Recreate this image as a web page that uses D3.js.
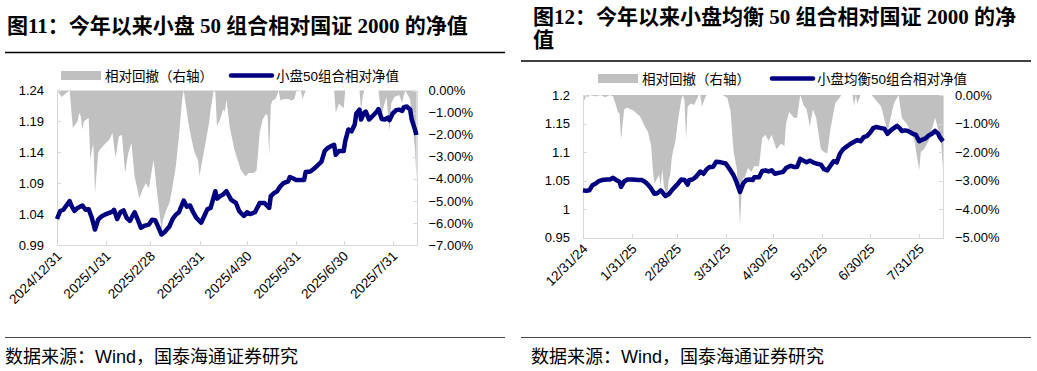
<!DOCTYPE html>
<meta charset="utf-8">
<script src="https://d3js.org/d3.v7.min.js"></script>
<style>
    body {
        margin: 0;
        background: #fff;
    }
    svg text {
        font-family: "Liberation Sans", Arial, "Noto Sans CJK SC", sans-serif;
    }
    .title {
        font-family: "Liberation Serif", "Noto Sans CJK SC", serif !important;
        font-weight: bold;
        font-size: 21px;
    }
    .axis path, .axis line {
        stroke: #d9d9d9;
        shape-rendering: crispEdges;
    }
    .axis text {
        fill: #000;
        font-size: 13px;
    }
</style>
<div id="viz_area"></div>
<script>
    var parseDate = d3.timeParse("%Y-%m-%d")

    // 图11 小盘50组合相对净值（左轴）
    var nav11 = [["2024-12-31",1.032],["2025-01-02",1.045],["2025-01-04",1.047],["2025-01-06",1.054],["2025-01-08",1.061],["2025-01-09",1.054],["2025-01-11",1.045],["2025-01-13",1.050],["2025-01-16",1.054],["2025-01-18",1.047],["2025-01-20",1.048],["2025-01-22",1.034],["2025-01-24",1.015],["2025-01-26",1.031],["2025-01-28",1.036],["2025-01-31",1.040],["2025-02-04",1.044],["2025-02-05",1.047],["2025-02-07",1.032],["2025-02-09",1.043],["2025-02-11",1.046],["2025-02-13",1.034],["2025-02-15",1.029],["2025-02-18",1.043],["2025-02-20",1.031],["2025-02-22",1.018],["2025-02-24",1.021],["2025-02-27",1.023],["2025-03-01",1.031],["2025-03-03",1.030],["2025-03-05",1.019],["2025-03-07",1.007],["2025-03-09",1.011],["2025-03-12",1.020],["2025-03-14",1.032],["2025-03-16",1.039],["2025-03-18",1.043],["2025-03-21",1.062],["2025-03-23",1.052],["2025-03-25",1.054],["2025-03-27",1.043],["2025-03-29",1.034],["2025-04-01",1.026],["2025-04-03",1.037],["2025-04-05",1.048],["2025-04-07",1.050],["2025-04-10",1.077],["2025-04-11",1.065],["2025-04-13",1.069],["2025-04-15",1.072],["2025-04-17",1.077],["2025-04-20",1.063],["2025-04-23",1.058],["2025-04-25",1.045],["2025-04-28",1.037],["2025-04-30",1.043],["2025-05-02",1.040],["2025-05-05",1.043],["2025-05-08",1.058],["2025-05-11",1.058],["2025-05-14",1.050],["2025-05-15",1.069],["2025-05-17",1.074],["2025-05-19",1.077],["2025-05-21",1.085],["2025-05-23",1.090],["2025-05-26",1.093],["2025-05-27",1.100],["2025-05-29",1.098],["2025-05-31",1.095],["2025-06-03",1.095],["2025-06-05",1.095],["2025-06-06",1.108],["2025-06-09",1.109],["2025-06-12",1.115],["2025-06-16",1.125],["2025-06-18",1.142],["2025-06-20",1.147],["2025-06-22",1.150],["2025-06-24",1.152],["2025-06-25",1.136],["2025-06-27",1.142],["2025-06-30",1.142],["2025-07-01",1.158],["2025-07-03",1.177],["2025-07-05",1.174],["2025-07-07",1.185],["2025-07-08",1.203],["2025-07-10",1.209],["2025-07-11",1.193],["2025-07-13",1.204],["2025-07-14",1.206],["2025-07-16",1.193],["2025-07-18",1.198],["2025-07-21",1.206],["2025-07-22",1.210],["2025-07-24",1.194],["2025-07-26",1.193],["2025-07-28",1.196],["2025-07-29",1.192],["2025-07-31",1.203],["2025-08-02",1.208],["2025-08-04",1.209],["2025-08-06",1.207],["2025-08-07",1.213],["2025-08-09",1.214],["2025-08-11",1.209],["2025-08-12",1.193],["2025-08-14",1.177],["2025-08-15",1.168]]

    // 图11 相对回撤（右轴，%）
    var dd11 = [["2024-12-31",0],["2025-01-03",-0.3],["2025-01-06",-0.1],["2025-01-08",0],["2025-01-10",-1.70],["2025-01-13",-1.39],["2025-01-14",-1.02],["2025-01-15",-1.17],["2025-01-16",-1.77],["2025-01-17",-1.39],["2025-01-20",-1.24],["2025-01-21",-3.14],["2025-01-22",-2.68],["2025-01-23",-2.45],["2025-01-24",-4.65],["2025-01-26",-2.83],["2025-01-27",-2.68],["2025-01-30",-2.45],["2025-02-02",-2.23],["2025-02-04",-1.92],["2025-02-06",-3.06],["2025-02-08",-2.08],["2025-02-10",-2.00],["2025-02-12",-3.74],["2025-02-14",-2.83],["2025-02-16",-2.38],["2025-02-18",-3.89],["2025-02-21",-4.88],["2025-02-23",-4.5],["2025-02-25",-4.2],["2025-02-27",-4.42],["2025-03-02",-3.14],["2025-03-04",-4.5],["2025-03-07",-6.32],["2025-03-08",-5.86],["2025-03-10",-5.41],["2025-03-12",-5.1],["2025-03-14",-4.35],["2025-03-16",-3.44],["2025-03-18",-2.08],["2025-03-20",-0.41],["2025-03-21",0],["2025-03-24",-1.47],["2025-03-26",-2.23],["2025-03-28",-2.83],["2025-03-30",-3.14],["2025-03-31",-3.89],["2025-04-01",-3.44],["2025-04-03",-2.68],["2025-04-06",-1.47],["2025-04-07",-0.86],["2025-04-09",0],["2025-04-10",-0.1],["2025-04-11",-1.62],["2025-04-13",-1.3],["2025-04-15",-0.86],["2025-04-16",-0.95],["2025-04-17",-0.41],["2025-04-19",-1.62],["2025-04-22",-2.68],["2025-04-24",-3.14],["2025-04-26",-3.59],["2025-04-29",-3.89],["2025-05-01",-3.74],["2025-05-04",-3.74],["2025-05-06",-3.64],["2025-05-07",-2.8],["2025-05-08",-1.89],["2025-05-10",-1.29],["2025-05-12",-1.06],["2025-05-13",-1.14],["2025-05-14",-2.95],["2025-05-15",-0.68],["2025-05-16",-0.45],["2025-05-18",-0.38],["2025-05-20",0],["2025-05-21",-0.45],["2025-05-23",-0.38],["2025-05-26",-0.38],["2025-05-28",-0.45],["2025-05-30",-0.38],["2025-05-31",-0.05],["2025-06-03",0],["2025-06-04",-0.38],["2025-06-06",0],["2025-06-24",0],["2025-06-25",-1.0],["2025-06-27",-0.6],["2025-06-30",-0.8],["2025-07-01",0],["2025-07-10",0],["2025-07-11",-0.9],["2025-07-12",-0.3],["2025-07-13",0],["2025-07-22",0],["2025-07-24",-1.24],["2025-07-25",-0.8],["2025-07-27",-0.3],["2025-07-29",-1.85],["2025-07-30",-0.6],["2025-08-01",-0.3],["2025-08-04",-0.2],["2025-08-06",-0.56],["2025-08-07",-0.2],["2025-08-08",0],["2025-08-11",-0.4],["2025-08-12",-1.3],["2025-08-14",-2.6],["2025-08-15",-4.0]]

    // 图12 小盘均衡50组合相对净值（左轴）
    var nav12 = [["2024-12-31",1.033],["2025-01-02",1.032],["2025-01-04",1.033],["2025-01-06",1.042],["2025-01-08",1.045],["2025-01-10",1.049],["2025-01-12",1.051],["2025-01-15",1.052],["2025-01-17",1.052],["2025-01-19",1.055],["2025-01-21",1.051],["2025-01-23",1.048],["2025-01-24",1.039],["2025-01-26",1.049],["2025-01-28",1.052],["2025-01-31",1.052],["2025-02-04",1.051],["2025-02-06",1.051],["2025-02-08",1.048],["2025-02-10",1.043],["2025-02-12",1.036],["2025-02-14",1.027],["2025-02-16",1.028],["2025-02-18",1.033],["2025-02-19",1.030],["2025-02-21",1.023],["2025-02-23",1.026],["2025-02-25",1.033],["2025-02-27",1.039],["2025-03-01",1.045],["2025-03-03",1.052],["2025-03-05",1.051],["2025-03-07",1.043],["2025-03-08",1.051],["2025-03-10",1.052],["2025-03-12",1.056],["2025-03-15",1.066],["2025-03-17",1.062],["2025-03-19",1.070],["2025-03-21",1.074],["2025-03-23",1.074],["2025-03-25",1.083],["2025-03-28",1.082],["2025-03-31",1.080],["2025-04-03",1.068],["2025-04-05",1.059],["2025-04-07",1.046],["2025-04-09",1.030],["2025-04-11",1.045],["2025-04-13",1.051],["2025-04-15",1.052],["2025-04-17",1.051],["2025-04-18",1.056],["2025-04-21",1.056],["2025-04-23",1.067],["2025-04-25",1.068],["2025-04-27",1.066],["2025-04-29",1.068],["2025-05-01",1.062],["2025-05-04",1.064],["2025-05-06",1.065],["2025-05-08",1.072],["2025-05-11",1.076],["2025-05-13",1.074],["2025-05-15",1.074],["2025-05-17",1.088],["2025-05-19",1.085],["2025-05-21",1.082],["2025-05-23",1.085],["2025-05-25",1.082],["2025-05-27",1.080],["2025-05-30",1.078],["2025-06-01",1.070],["2025-06-03",1.068],["2025-06-05",1.076],["2025-06-07",1.084],["2025-06-09",1.082],["2025-06-11",1.097],["2025-06-13",1.105],["2025-06-15",1.109],["2025-06-18",1.115],["2025-06-20",1.118],["2025-06-22",1.121],["2025-06-24",1.119],["2025-06-26",1.126],["2025-06-28",1.128],["2025-06-30",1.134],["2025-07-02",1.142],["2025-07-04",1.144],["2025-07-07",1.142],["2025-07-09",1.141],["2025-07-11",1.132],["2025-07-13",1.138],["2025-07-15",1.142],["2025-07-17",1.146],["2025-07-19",1.141],["2025-07-20",1.137],["2025-07-22",1.138],["2025-07-24",1.137],["2025-07-27",1.132],["2025-07-29",1.130],["2025-07-31",1.119],["2025-08-02",1.122],["2025-08-04",1.124],["2025-08-06",1.129],["2025-08-08",1.132],["2025-08-10",1.137],["2025-08-12",1.132],["2025-08-13",1.126],["2025-08-15",1.119]]

    // 图12 相对回撤（右轴，%）
    var dd12 = [["2024-12-31",0],["2025-01-01",-0.19],["2025-01-02",0],["2025-01-03",-0.1],["2025-01-04",0],["2025-01-08",-0.05],["2025-01-11",0],["2025-01-14",-0.08],["2025-01-17",0],["2025-01-19",-0.05],["2025-01-21",-0.4],["2025-01-22",-0.6],["2025-01-23",-0.65],["2025-01-24",-1.55],["2025-01-26",-0.5],["2025-01-28",-0.45],["2025-02-01",-0.55],["2025-02-05",-0.75],["2025-02-08",-1.1],["2025-02-10",-1.3],["2025-02-12",-1.8],["2025-02-13",-2.6],["2025-02-14",-3.1],["2025-02-16",-2.9],["2025-02-17",-2.8],["2025-02-18",-3.2],["2025-02-19",-2.6],["2025-02-20",-3.2],["2025-02-21",-3.4],["2025-02-22",-3.63],["2025-02-23",-3.0],["2025-02-24",-2.8],["2025-02-25",-2.2],["2025-02-26",-1.9],["2025-02-27",-1.7],["2025-02-28",-1.3],["2025-03-01",-0.85],["2025-03-02",-0.5],["2025-03-03",-0.15],["2025-03-04",0],["2025-03-05",-0.2],["2025-03-06",-1.55],["2025-03-07",-0.4],["2025-03-09",-0.3],["2025-03-11",-0.35],["2025-03-14",0],["2025-03-15",0],["2025-03-16",-0.4],["2025-03-18",-0.1],["2025-03-19",0],["2025-03-29",0],["2025-04-01",-0.1],["2025-04-03",-0.55],["2025-04-04",-1.3],["2025-04-05",-2.0],["2025-04-07",-2.6],["2025-04-08",-3.4],["2025-04-09",-4.57],["2025-04-10",-3.4],["2025-04-11",-2.9],["2025-04-12",-2.9],["2025-04-14",-2.55],["2025-04-16",-2.7],["2025-04-18",-2.5],["2025-04-21",-2.5],["2025-04-23",-1.5],["2025-04-25",-1.4],["2025-04-27",-1.6],["2025-04-29",-1.4],["2025-05-02",-1.9],["2025-05-05",-1.7],["2025-05-07",-1.8],["2025-05-08",-1.0],["2025-05-10",-0.6],["2025-05-13",-0.8],["2025-05-15",-0.8],["2025-05-17",0],["2025-05-19",-0.35],["2025-05-21",-0.5],["2025-05-23",-1.1],["2025-05-25",-0.5],["2025-05-27",-0.8],["2025-05-30",-1.9],["2025-06-01",-2.0],["2025-06-03",-2.05],["2025-06-05",-1.2],["2025-06-08",-0.3],["2025-06-12",0],["2025-06-19",0],["2025-06-20",-0.4],["2025-06-21",0],["2025-06-22",-0.3],["2025-06-24",0],["2025-07-01",0],["2025-07-07",-0.4],["2025-07-11",-1.28],["2025-07-13",-0.8],["2025-07-15",-0.3],["2025-07-18",0],["2025-07-20",-0.8],["2025-07-23",-1.0],["2025-07-26",-1.3],["2025-07-28",-1.6],["2025-07-31",-2.63],["2025-08-01",-2.0],["2025-08-03",-1.9],["2025-08-06",-1.6],["2025-08-08",-1.2],["2025-08-10",-0.8],["2025-08-12",-1.2],["2025-08-14",-1.8],["2025-08-15",-2.6]]

    var dateStart = "2024-12-31", dateEnd = "2025-08-15"
    var xTicks = ["2024-12-31", "2025-01-31", "2025-02-28", "2025-03-31", "2025-04-30", "2025-05-31", "2025-06-30", "2025-07-31"]
    var yTicks11 = [0.99, 1.04, 1.09, 1.14, 1.19, 1.24]
    var ddTicks11 = [0, -1, -2, -3, -4, -5, -6, -7]
    var yTicks12 = [0.95, 1, 1.05, 1.1, 1.15, 1.2]
    var ddTicks12 = [0, -1, -2, -3, -4, -5]

    var svG = d3.select("#viz_area")
        .append("svg")
        .attr("width", 1037)
        .attr("height", 371)

    svG.append("rect").attr("width", 1037).attr("height", 371).attr("fill", "#fff")

    var navy = "#000080", gray = "#c0c0c0"

    function drawPanel(cfg) {
        var g = svG.append("g")

        // 标题（可能两行）
        cfg.title.forEach(function(t, i) {
            g.append("text").attr("class", "title")
                .attr("x", cfg.titleX).attr("y", cfg.titleY + i * 23)
                .text(t)
        })
        g.append("line")
            .attr("x1", cfg.ruleX0).attr("x2", cfg.ruleX1)
            .attr("y1", cfg.ruleTop).attr("y2", cfg.ruleTop)
            .attr("stroke", "#000").attr("stroke-width", 1.5)

        var x = d3.scaleTime()
            .domain([parseDate(dateStart), parseDate(dateEnd)])
            .range([cfg.left, cfg.right])
        var y = d3.scaleLinear().domain(cfg.yDomain).range([cfg.bottom, cfg.top])
        var yR = d3.scaleLinear().domain(cfg.ddDomain).range([cfg.bottom, cfg.top])

        // 相对回撤面积
        var area = d3.area()
            .x(function(d) { return x(parseDate(d[0])) })
            .y0(yR(0))
            .y1(function(d) { return yR(d[1]) })
        g.append("path").datum(cfg.dd).attr("d", area).attr("fill", gray)

        // 坐标轴
        g.append("g").attr("class", "axis")
            .attr("transform", "translate(" + cfg.left + ",0)")
            .call(d3.axisLeft(y).tickValues(cfg.yTicks).tickSize(-4).tickSizeOuter(0)
                .tickPadding(13).tickFormat(cfg.yFmt))

        g.append("g").attr("class", "axis")
            .attr("transform", "translate(" + cfg.right + ",0)")
            .call(d3.axisRight(yR).tickValues(cfg.ddTicks).tickSize(-4).tickSizeOuter(0)
                .tickPadding(12).tickFormat(function(d) { return d3.format(".2f")(d) + "%" }))

        var xAxis = g.append("g").attr("class", "axis")
            .attr("transform", "translate(0," + cfg.bottom + ")")
            .call(d3.axisBottom(x).tickValues(xTicks.map(parseDate)).tickSize(-4).tickSizeOuter(0)
                .tickFormat(d3.timeFormat(cfg.xFmt)))
        xAxis.selectAll("text")
            .attr("y", 0).attr("dy", 0)
            .attr("transform", "translate(5,12) rotate(-45)")
            .style("text-anchor", "end")
            .style("font-size", "13.5px")

        // 净值曲线
        var line = d3.line()
            .x(function(d) { return x(parseDate(d[0])) })
            .y(function(d) { return y(d[1]) })
        g.append("path").datum(cfg.nav).attr("d", line)
            .attr("fill", "none").attr("stroke", navy)
            .attr("stroke-width", 4.5).attr("stroke-linejoin", "round")

        // 图例
        var lg = g.append("g").attr("transform", "translate(0," + cfg.legendY + ")")
        lg.append("rect").attr("x", cfg.legendX).attr("y", -4.5)
            .attr("width", 40).attr("height", 9).attr("fill", gray)
        lg.append("text").attr("x", cfg.legendX + 44).attr("y", 5)
            .style("font-size", "13.5px").text("相对回撤（右轴）")
        lg.append("line").attr("x1", cfg.legendX2).attr("x2", cfg.legendX2 + 41)
            .attr("y1", 0).attr("y2", 0)
            .attr("stroke", navy).attr("stroke-width", 4.5).attr("stroke-linecap", "round")
        lg.append("text").attr("x", cfg.legendX2 + 45).attr("y", 5)
            .style("font-size", "13.5px").text(cfg.navName)

        // 数据来源
        g.append("line")
            .attr("x1", cfg.ruleX0).attr("x2", cfg.ruleX1)
            .attr("y1", 337.5).attr("y2", 337.5)
            .attr("stroke", "#444").attr("stroke-width", 1.2)
        g.append("text").attr("x", cfg.titleX - 2).attr("y", 363)
            .style("font-size", "18px")
            .text("数据来源：Wind，国泰海通证券研究")
    }

    drawPanel({
        title: ["图11：今年以来小盘 50 组合相对国证 2000 的净值"],
        titleX: 7, titleY: 33, ruleTop: 52.5, ruleX0: 5, ruleX1: 505,
        left: 57, right: 416.5, top: 90.5, bottom: 245,
        yDomain: [0.99, 1.24], ddDomain: [-7, 0],
        yTicks: yTicks11, ddTicks: ddTicks11,
        yFmt: d3.format(".2f"), xFmt: "%Y/%-m/%-d",
        nav: nav11, dd: dd11,
        legendY: 75.5, legendX: 61, legendX2: 231, navName: "小盘50组合相对净值"
    })

    drawPanel({
        title: ["图12：今年以来小盘均衡 50 组合相对国证 2000 的净", "值"],
        titleX: 533, titleY: 24, ruleTop: 61, ruleX0: 521, ruleX1: 1031,
        left: 583, right: 943, top: 95, bottom: 237.7,
        yDomain: [0.95, 1.2], ddDomain: [-5, 0],
        yTicks: yTicks12, ddTicks: ddTicks12,
        yFmt: function(d) { return String(+d.toFixed(2)) }, xFmt: "%-m/%-d/%y",
        nav: nav12, dd: dd12,
        legendY: 78.5, legendX: 598, legendX2: 772, navName: "小盘均衡50组合相对净值"
    })
</script>
